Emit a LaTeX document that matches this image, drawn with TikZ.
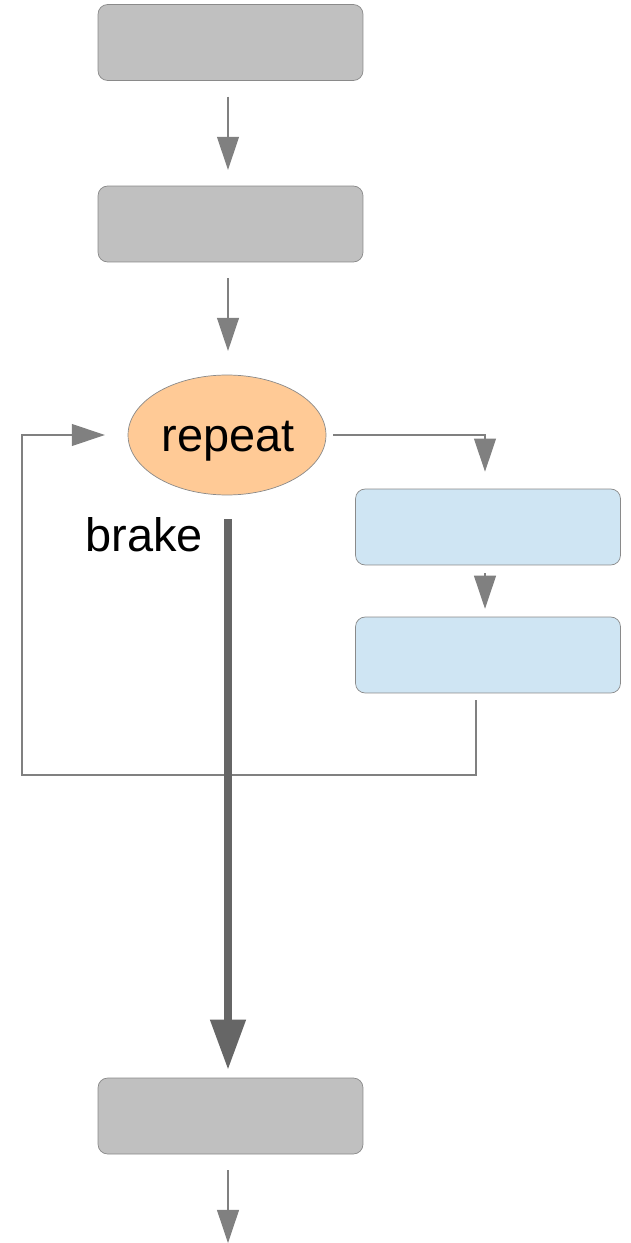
\documentclass[tikz,border=0pt]{standalone}
\usepackage{fontspec}
\setmainfont{Liberation Sans}
\usetikzlibrary{arrows.meta,shapes.geometric}

\definecolor{boxgray}{HTML}{C0C0C0}
\definecolor{loopblue}{HTML}{CFE5F3}
\definecolor{repeatorange}{HTML}{FFCA96}
\definecolor{edgegray}{HTML}{8A8A8A}
\definecolor{linegray}{HTML}{808080}
\definecolor{breakgray}{HTML}{666666}

\tikzset{
  stage/.style={rectangle,rounded corners=5.5pt,draw=edgegray,fill=boxgray,
    minimum width=5.3cm,minimum height=1.52cm,inner sep=0pt},
  body/.style={stage,fill=loopblue},
  loophead/.style={ellipse,draw=edgegray,fill=repeatorange,
    minimum width=3.96cm,minimum height=2.4cm,inner sep=0pt},
  flow/.style={draw=linegray,line width=0.6pt,
    -{Triangle[length=18.8pt,width=12.5pt]},color=linegray},
  exitflow/.style={draw=breakgray,line width=4.5pt,
    -{Triangle[length=28.5pt,width=19.3pt]},color=breakgray},
  big/.style={font=\fontsize{26.7}{32}\selectfont}
}

\begin{document}
\begin{tikzpicture}[x=0.02cm,y=-0.02cm]
  \useasboundingbox (0,0) rectangle (630,1243);
  % straight line part
  \node[stage] (first) at (230.5,42.5) {};
  \node[stage] (second) at (230.5,224) {};
  \node[loophead] (rep) at (227,435) {};
  \node[big] (repText) at (228,441) {repeat};
  \node[stage] (after) at (230.5,1116) {};
  \coordinate (out) at (228,1243);
  % loop body
  \node[body] (bodya) at (488,527) {};
  \node[body] (bodyb) at (488,655) {};

  \draw[flow,shorten <=9pt,shorten >=9pt] (first.south -| out) -- (second.north -| out);
  \draw[flow,shorten <=9pt,shorten >=13.5pt] (second.south -| out) -- (rep.north -| out);
  \draw[flow,shorten <=9pt] (after.south -| out) -- (out);

  % into the body and back again
  \draw[flow,shorten <=4pt,shorten >=9.7pt] (rep.east) -| ([xshift=-0.06cm]bodya.north);
  \draw[flow,shorten <=4.5pt,shorten >=4.5pt] ([xshift=-0.06cm]bodya.south) -- ([xshift=-0.06cm]bodyb.north);
  \draw[flow,shorten <=4pt,shorten >=13pt]
    ([xshift=-0.24cm]bodyb.south) |- (22,775) |- (rep.west);

  % leaving the loop
  \draw[exitflow,shorten <=13.7pt,shorten >=4.5pt] (rep.south -| out) -- (after.north -| out);
  \node[big,anchor=east] (brk) at (209,535) {brake};
\end{tikzpicture}
\end{document}
